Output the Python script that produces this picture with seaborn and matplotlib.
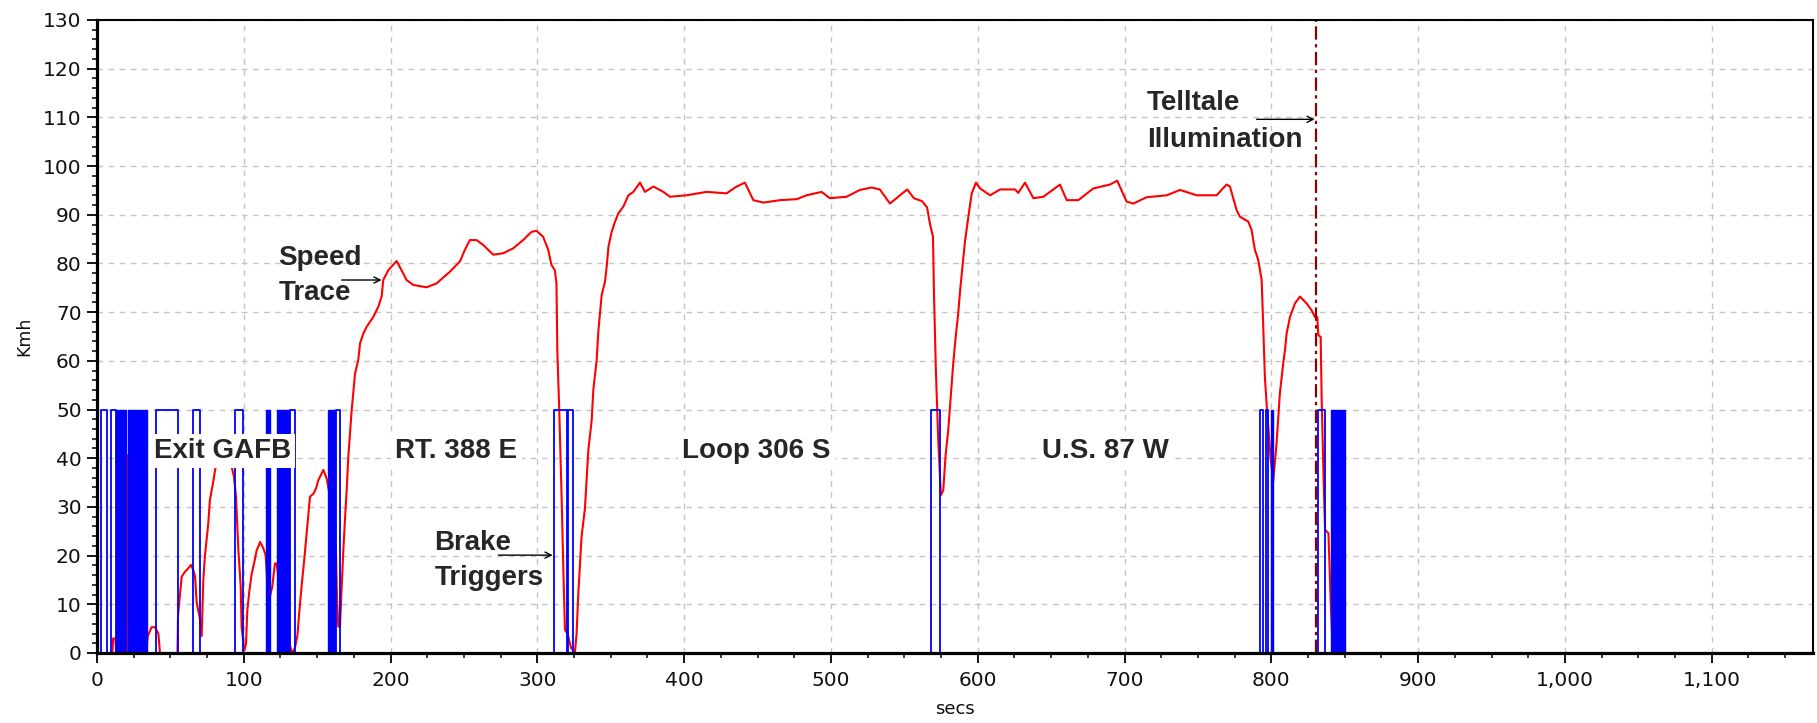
import numpy as np
import matplotlib
matplotlib.use("Agg")
import matplotlib.pyplot as plt
from matplotlib.ticker import MultipleLocator, FuncFormatter
import seaborn as sns

# ---------------- data ----------------
speed_t = [0, 10.5, 11.0, 12.5, 13.0, 20.0, 20.2, 20.4, 33.5, 34.5, 37.2, 39.5, 41.8, 42.9,
           54.8, 55.2, 57.7, 60.0, 62.2, 64.0, 65.6, 66.8, 67.9, 70.2, 71.3, 72.4, 73.5,
           75.8, 76.9, 79.2, 80.4, 81.5, 84.0, 88.0, 89.5, 91.7, 93.3, 94.7, 96.3, 97.9,
           98.5, 100.3, 101.5, 102.4, 103.8, 105.4, 107.0, 108.8, 111.1, 113.3, 114.9,
           116.5, 117.8, 119.4, 121.2, 122.4, 128.0, 133.0, 134.8, 136.5, 137.8, 139.4,
           141.2, 143.3, 145.1, 147.4, 149.2, 150.8, 153.1, 154.2, 156.5, 160.0, 162.8,
           163.5, 164.4, 165.5, 166.7, 167.8, 168.9, 170.1, 171.2, 173.5, 175.8, 178.0,
           179.2, 181.4, 183.7, 188.2, 191.6, 193.9, 195.0, 198.4, 204.1, 207.5, 210.9,
           215.4, 224.5, 231.3, 240.4, 247.2, 250.6, 254.0, 258.6, 263.1, 269.9, 276.7,
           283.5, 290.3, 296.0, 299.4, 303.9, 307.4, 309.6, 311.9, 313.0, 313.6, 314.9,
           316.5, 317.7, 318.8, 320.5, 323.0, 325.6, 326.7, 327.9, 330.1, 332.4, 334.7,
           337.0, 338.1, 340.4, 341.5, 342.7, 343.8, 346.1, 347.2, 348.4, 350.6, 352.9,
           355.2, 358.6, 362.0, 365.4, 369.9, 373.3, 379.0, 385.8, 390.3, 401.6, 415.3,
           428.9, 435.7, 441.4, 447.1, 453.9, 465.3, 476.6, 483.4, 493.6, 499.3, 510.6,
           519.7, 527.6, 533.3, 540.2, 545.8, 552.0, 556.5, 562.0, 565.5, 567.4, 569.5,
           570.2, 571.5, 573.1, 574.9, 576.5, 578.1, 579.9, 581.5, 583.3, 585.1, 586.7,
           587.9, 589.7, 591.3, 593.6, 595.9, 598.8, 601.6, 608.4, 615.2, 625.4, 627.6,
           632.2, 637.9, 644.7, 656.0, 660.6, 668.5, 678.7, 690.0, 695.0, 701.4, 706.0,
           715.0, 728.7, 737.8, 749.1, 762.7, 769.5, 771.8, 776.3, 778.6, 784.3, 786.5,
           788.8, 791.1, 793.4, 794.5, 795.6, 797.2, 797.9, 799.5, 801.3, 803.6, 805.8,
           808.1, 809.3, 810.4, 812.7, 816.1, 819.5, 824.0, 827.4, 829.7, 831.3, 832.0,
           833.6, 834.3, 835.5, 836.6, 838.9, 840.5, 842.0, 1169.0]
speed_v = [0, 0, 3.0, 3.0, 0, 0, 40.7, 0, 0, 3.4, 5.3, 5.3, 4.0, 0,
           0, 7.8, 15.7, 16.7, 17.4, 18.1, 17.0, 15.7, 10.3, 6.9, 3.5, 14.8, 19.9,
           26.6, 31.4, 35.2, 37.5, 38.9, 40.5, 40.5, 39.3, 38.3, 36.2, 32.1, 21.2, 13.6,
           5.4, 0.5, 1.9, 8.7, 12.8, 16.3, 18.4, 21.1, 22.8, 21.5, 20.1,
           12.0, 11.6, 13.6, 18.4, 18.4, 5.0, 0, 1.0, 3.5, 8.4, 13.8,
           19.2, 26.1, 32.1, 32.7, 33.8, 35.5, 36.9, 37.6, 35.8, 30.0, 20.5,
           11.3, 5.4, 5.4, 13.7, 21.1, 27.3, 33.5, 40.3, 49.9, 57.4, 60.2,
           63.6, 65.6, 67.0, 69.0, 71.1, 73.2, 76.6, 78.6, 80.5, 78.6, 76.6,
           75.6, 75.1, 75.9, 78.3, 80.4, 82.8, 84.8, 84.8, 83.8, 81.8, 82.1,
           83.1, 84.8, 86.5, 86.7, 85.5, 82.8, 79.7, 78.6, 75.9, 62.0, 49.9,
           32.1, 17.0, 4.7, 4.0, 1.0, 0.2, 3.9, 12.3, 23.9, 29.7, 41.6,
           47.8, 54.0, 60.2, 66.0, 69.8, 73.5, 76.3, 79.3, 83.4, 86.5, 88.6,
           90.3, 91.7, 94.0, 94.7, 96.6, 94.7, 95.8, 94.7, 93.7, 94.0, 94.7,
           94.4, 95.8, 96.6, 93.0, 92.5, 93.0, 93.2, 94.0, 94.7, 93.4, 93.7,
           95.1, 95.6, 95.2, 92.3, 93.7, 95.2, 93.4, 92.8, 91.5, 88.2, 85.5,
           73.5, 57.8, 43.5, 32.4, 33.4, 40.6, 45.8, 52.3, 59.5, 65.3, 69.7,
           74.2, 79.6, 84.5, 89.6, 94.4, 96.6, 95.4, 94.0, 95.2, 95.2, 94.5,
           96.6, 93.4, 93.7, 96.2, 93.0, 93.0, 95.4, 96.2, 97.0, 92.7, 92.3,
           93.6, 94.0, 95.1, 94.0, 94.0, 96.2, 95.8, 91.0, 89.6, 88.6, 86.9,
           82.8, 80.7, 76.6, 67.0, 56.7, 49.2, 46.5, 40.0, 35.3, 43.2, 53.3,
           59.5, 62.2, 65.6, 69.0, 71.8, 73.2, 71.8, 70.4, 69.0, 69.0, 65.3,
           64.9, 52.0, 36.9, 25.3, 24.6, 10.0, 0, 0]

# brake trigger pulses (single pulses drawn as outlines)
brake_start = [2.7, 9.5, 40.2, 65.2, 94.0, 131.3, 162.6, 311.3, 321.0, 568.0,
               792.2, 796.3, 832.0]
brake_end = [6.6, 12.7, 55.0, 70.2, 99.7, 134.8, 165.5, 320.0, 324.5, 574.3,
             794.0, 798.0, 836.6]
# dense bursts of triggers (appear solid)
burst_start = [12.7, 21.3, 115.1, 122.8, 157.6, 799.5, 840.4]
burst_end = [19.5, 33.8, 117.8, 131.0, 162.1, 800.9, 850.1]
brake_level = 50

telltale_t = 830.4

section_labels = ["Exit GAFB", "RT. 388 E", "Loop 306 S", "U.S. 87 W"]
section_x = [85.5, 244.9, 449.4, 687.3]

y_ticks = list(range(0, 131, 10))
x_ticks = list(range(0, 1101, 100))

# ---------------- figure ----------------
sns.set_style("white")
plt.rcParams["font.family"] = ["DejaVu Sans"]

W, H = 1817, 723
fig = plt.figure(figsize=(W / 100, H / 100), dpi=100)
ax = fig.add_axes([97 / W, 1 - 653 / H, (1813 - 97) / W, (653 - 20) / H])

ax.set_xlim(0, 1169)
ax.set_ylim(0, 130)

# grid
ax.set_axisbelow(True)
ax.grid(True, which="major", color="#c4c4c4", lw=1.0, ls=(0, (4, 4)))

# speed trace
sns.lineplot(x=speed_t, y=speed_v, sort=False, estimator=None, color="#ff0000",
             lw=1.5, ax=ax, zorder=2.1)

# brake pulses (outline)
bx, by = [], []
for s, e in zip(brake_start, brake_end):
    bx += [s, s, e, e, np.nan]
    by += [0, brake_level, brake_level, 0, np.nan]
ax.plot(bx, by, color="#0000ff", lw=1.3, zorder=2.2)
# dense bursts (solid)
for s, e in zip(burst_start, burst_end):
    ax.fill_between([s, e], 0, brake_level, color="#0000ff", lw=1.0, zorder=2.2)

# telltale illumination line
ax.axvline(telltale_t, color="#8b0000", lw=1.6, ls=(0, (6, 2, 1.5, 2)), zorder=2.3)

# section labels
bold = dict(family=["Liberation Sans", "DejaVu Sans"], weight="bold", size=20)
for lab, xx in zip(section_labels, section_x):
    ax.text(xx, 40, lab, ha="center", va="baseline", zorder=5,
            bbox=dict(facecolor="white", edgecolor="none", pad=3), **bold)

# callouts
ax.text(123.5, 79.7, "Speed", ha="left", va="baseline", zorder=5, **bold)
ax.text(123.8, 72.5, "Trace", ha="left", va="baseline", zorder=5, **bold)
ax.text(229.6, 21.1, "Brake", ha="left", va="baseline", zorder=5, **bold)
ax.text(230.2, 14.0, "Triggers", ha="left", va="baseline", zorder=5, **bold)
ax.text(715.4, 111.5, "Telltale", ha="left", va="baseline", zorder=5, **bold)
ax.text(715.4, 103.9, "Illumination", ha="left", va="baseline", zorder=5, **bold)

arrow = dict(arrowstyle="->", color="black", lw=1.0, shrinkA=0, shrinkB=0,
             mutation_scale=11)
ax.annotate("", xy=(193.9, 76.6), xytext=(166.7, 76.6), arrowprops=arrow, zorder=6)
ax.annotate("", xy=(310.4, 20.1), xytext=(273.4, 20.1), arrowprops=arrow, zorder=6)
ax.annotate("", xy=(829.5, 109.6), xytext=(790.0, 109.6), arrowprops=arrow, zorder=6)

# ticks / axes
ax.set_yticks(y_ticks)
ax.set_xticks(x_ticks)
ax.yaxis.set_minor_locator(MultipleLocator(2))
ax.xaxis.set_minor_locator(MultipleLocator(25))
ax.xaxis.set_major_formatter(FuncFormatter(lambda v, p: f"{int(round(v)):,}"))
ax.tick_params(axis="both", which="major", direction="out", length=7, width=1.3,
               color="black", labelsize=14.5, labelcolor="#111111", pad=4,
               bottom=True, left=True)
ax.tick_params(axis="both", which="minor", direction="out", length=3.5, width=1.1,
               color="black", bottom=True, left=True)
ax.tick_params(axis="x", which="major", pad=6)

for side in ["left", "bottom"]:
    ax.spines[side].set_linewidth(2.3)
    ax.spines[side].set_color("black")
for side in ["top", "right"]:
    ax.spines[side].set_linewidth(1.5)
    ax.spines[side].set_color("black")
    ax.spines[side].set_visible(True)

ax.set_ylabel("Kmh", fontsize=12.5, color="#111111")
ax.set_xlabel("secs", fontsize=13, color="#111111")
ax.yaxis.set_label_coords(-0.037, 0.5)
ax.xaxis.set_label_coords(0.5, -0.074)

fig.savefig("out.png", dpi=100, facecolor="white")
